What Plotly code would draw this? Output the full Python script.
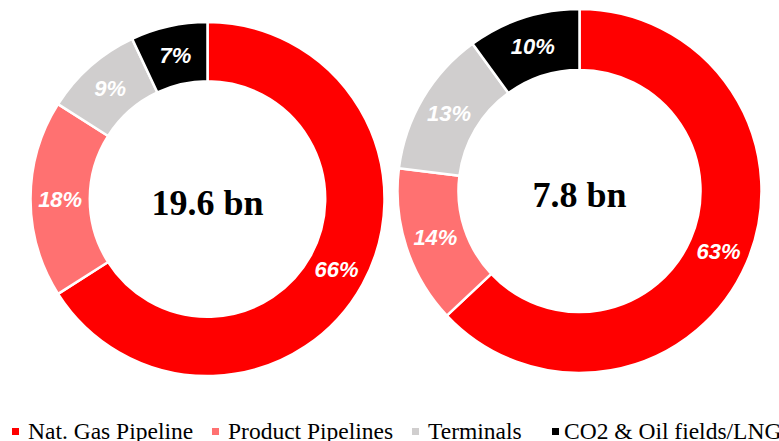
import plotly.graph_objects as go

categories = ["Nat. Gas Pipeline", "Product Pipelines", "Terminals", "CO2 & Oil fields/LNG"]
colors = ["#FF0000", "#FF7171", "#D0CECE", "#000000"]
left_values = [66, 18, 9, 7]
right_values = [63, 14, 13, 10]
left_total = "19.6 bn"
right_total = "7.8 bn"

W, H = 779, 441
SERIF = "Liberation Serif, Times New Roman, serif"

def dom(cx, cy, r):
    return dict(x=[(cx - r) / W, (cx + r) / W], y=[(H - cy - r) / H, (H - cy + r) / H])

def donut(values, total, domain):
    return go.Pie(
        labels=categories, values=values, sort=False, direction="clockwise", rotation=0,
        hole=0.665, domain=domain,
        marker=dict(colors=colors, line=dict(color="white", width=2.5)),
        texttemplate="%{value}%", textposition="inside", insidetextorientation="horizontal",
        textfont=dict(family="Liberation Sans, Arial, sans-serif", size=22, color="white",
                      weight="bold", style="italic"),
        title=dict(text=total, position="middle center",
                   font=dict(family=SERIF, size=36, color="black", weight="bold")),
        showlegend=False, hoverinfo="label+percent",
    )

fig = go.Figure()
fig.add_trace(donut(left_values, left_total, dom(207.5, 199, 177)))
fig.add_trace(donut(right_values, right_total, dom(579.5, 191, 182)))

# custom legend
key_x = [12, 212, 412, 552]
text_x = [26, 226, 426, 562]
for c, name, kx, tx in zip(colors, categories, key_x, text_x):
    fig.add_shape(type="rect", xref="paper", yref="paper",
                  x0=kx / W, x1=(kx + 7) / W, y0=(H - 435) / H, y1=(H - 428) / H,
                  fillcolor=c, line=dict(width=0))
    fig.add_annotation(x=tx / W, y=(H - 431) / H, xref="paper", yref="paper",
                       xanchor="left", yanchor="middle", showarrow=False, text=name,
                       font=dict(family=SERIF, size=23.5, color="black"))

fig.update_layout(width=W, height=H, margin=dict(l=0, r=0, t=0, b=0),
                  paper_bgcolor="white", plot_bgcolor="white")
fig.write_html("out.html")
